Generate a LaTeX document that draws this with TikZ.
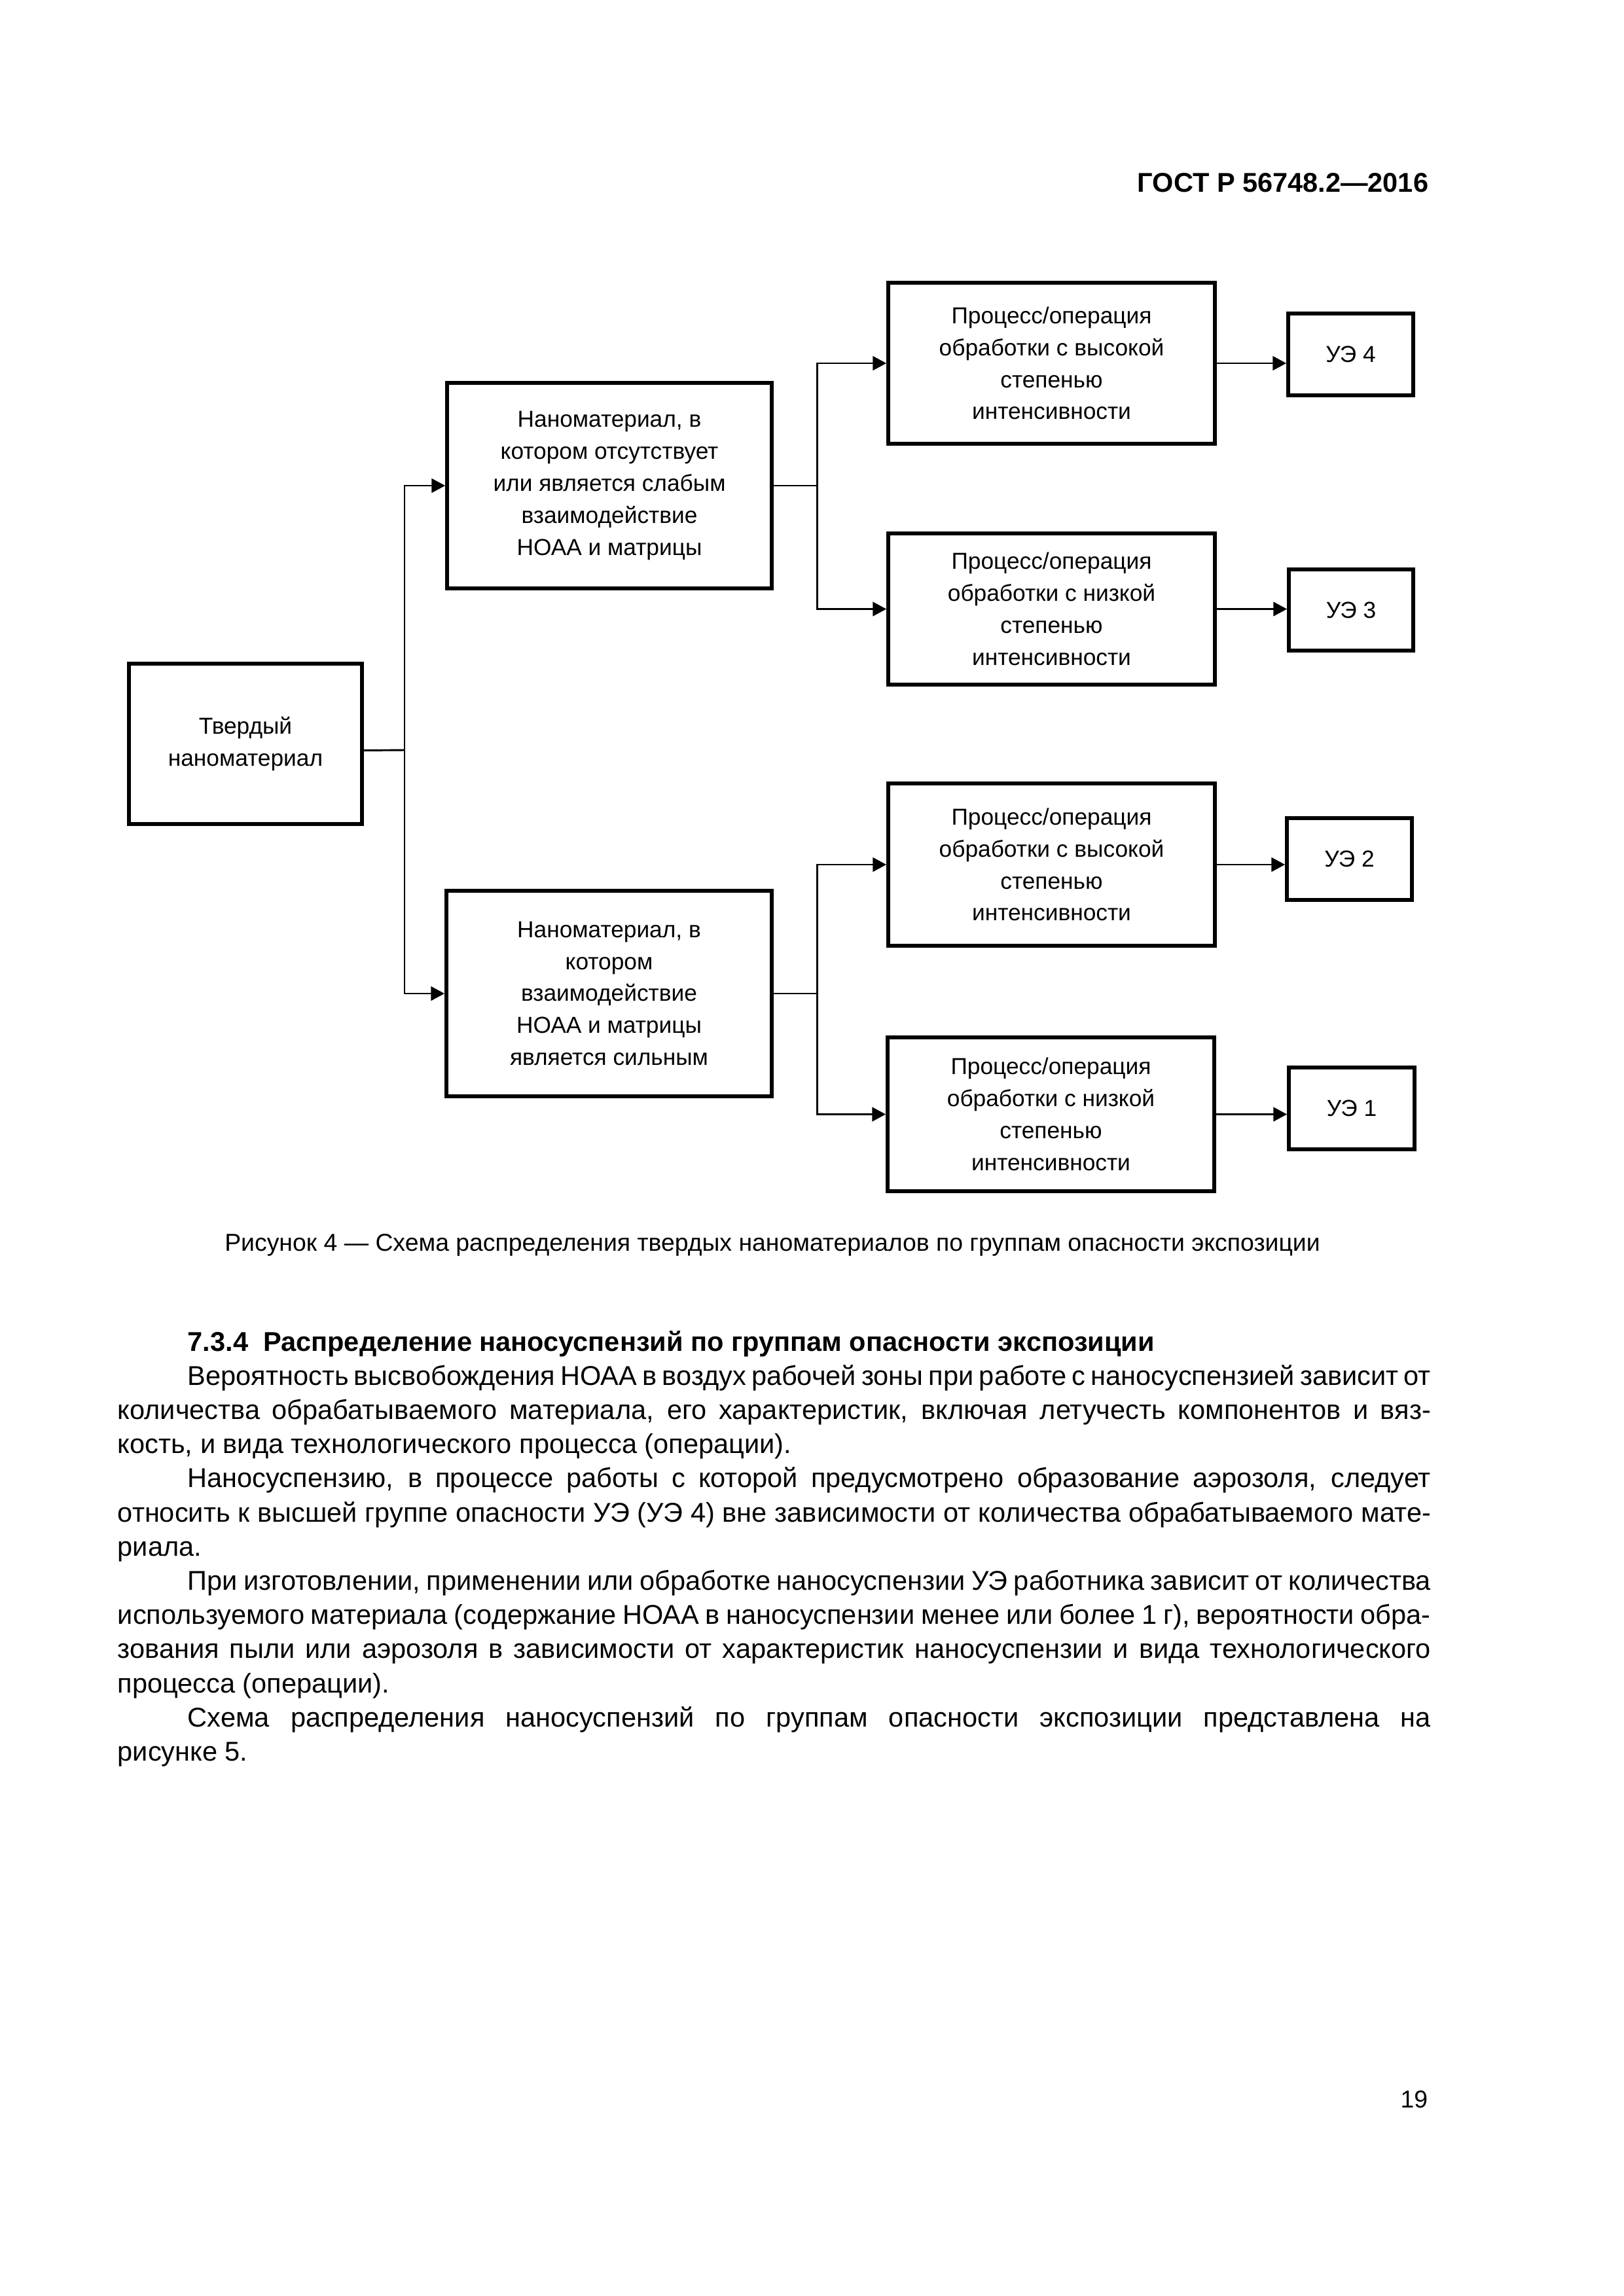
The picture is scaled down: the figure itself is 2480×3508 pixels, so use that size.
\documentclass[tikz,border=0pt]{standalone}
\usepackage{fontspec}
\setmainfont{Liberation Sans}
\usetikzlibrary{arrows.meta}
\newlength\bodyw \setlength\bodyw{481.44bp}
\newlength\bodyi \setlength\bodyi{455.76bp}
\newcommand\jl[1]{\hbox to \bodyw{\spaceskip=0.278em plus 1em minus 0.22em\relax #1}}
\newcommand\ji[1]{\hbox to \bodyi{\spaceskip=0.278em plus 1em minus 0.22em\relax #1}}
\newcommand\nl[1]{\hbox{\spaceskip=0.278em plus 0.1em minus 0.1em\relax #1}}
\newcommand\boxfont{\fontsize{8.5}{11.76}\selectfont}
\newcommand\bodyfont{\fontsize{10}{12.5}\selectfont}
\newcommand\capfont{\fontsize{9}{11}\selectfont}
\newcommand\headfont{\fontsize{10}{12}\selectfont\bfseries}
\begin{document}
\begin{tikzpicture}[x=0.24bp,y=-0.24bp,
  box/.style={draw, line width=1.4pt, align=center, inner sep=0pt, font=\boxfont},
  conn/.style={line width=0.7pt},
  arr/.style={line width=0.7pt, -{Triangle[length=5bp,width=5.2bp]}},
  txt/.style={inner sep=0pt, font=\bodyfont}
]
\useasboundingbox (0,0) rectangle (2480,3508);

% header and page number
\node[inner sep=0pt, anchor=base east, font=\headfont] (hdr) at (2183,293) {ГОСТ Р 56748.2—2016};
\node[inner sep=0pt, anchor=base east, font=\fontsize{9}{11}\selectfont] (pg) at (2182,3220) {19};

% boxes
\node[box, minimum width={356*0.24bp}, minimum height={245*0.24bp}] (A) at (375,1136.5) {Твердый\\наноматериал};
\node[box, minimum width={496*0.24bp}, minimum height={314*0.24bp}] (B1) at (931,742) {Наноматериал, в\\котором отсутствует\\или является слабым\\взаимодействие\\НОАА и матрицы};
\node[box, minimum width={497*0.24bp}, minimum height={314*0.24bp}] (B2) at (930.5,1518) {Наноматериал, в\\котором\\взаимодействие\\НОАА и матрицы\\является сильным};
\node[box, minimum width={499*0.24bp}, minimum height={246*0.24bp}] (C1) at (1606.5,555) {Процесс/операция\\обработки с высокой\\степенью\\интенсивности};
\node[box, minimum width={499*0.24bp}, minimum height={231*0.24bp}] (C2) at (1606.5,930.5) {Процесс/операция\\обработки с низкой\\степенью\\интенсивности};
\node[box, minimum width={499*0.24bp}, minimum height={248*0.24bp}] (C3) at (1606.5,1321) {Процесс/операция\\обработки с высокой\\степенью\\интенсивности};
\node[box, minimum width={499*0.24bp}, minimum height={235*0.24bp}] (C4) at (1605.5,1702.5) {Процесс/операция\\обработки с низкой\\степенью\\интенсивности};
\node[box, minimum width={191*0.24bp}, minimum height={125*0.24bp}] (U4) at (2063.5,541.5) {УЭ 4};
\node[box, minimum width={190*0.24bp}, minimum height={124*0.24bp}] (U3) at (2064,932) {УЭ 3};
\node[box, minimum width={191*0.24bp}, minimum height={125*0.24bp}] (U2) at (2061.5,1312.5) {УЭ 2};
\node[box, minimum width={192*0.24bp}, minimum height={125*0.24bp}] (U1) at (2065,1693.5) {УЭ 1};

% connectors
\coordinate (jL) at (618,1146);
\draw[conn] ([yshift=-2.4bp]A.east) -- (jL);
\draw[arr] (jL) |- (B1.west);
\draw[arr] (jL) |- (B2.west);
\coordinate (jR1) at ([xshift=16.08bp]B1.east);
\coordinate (jR2) at ([xshift=16.08bp]B2.east);
\draw[conn] (B1.east) -- (jR1);
\draw[arr] (jR1) |- (C1.west);
\draw[arr] (jR1) |- (C2.west);
\draw[conn] (B2.east) -- (jR2);
\draw[arr] (jR2) |- (C3.west);
\draw[arr] (jR2) |- (C4.west);
\draw[arr] (C1.east) -- (C1.east -| U4.west);
\draw[arr] (C2.east) -- (C2.east -| U3.west);
\draw[arr] (C3.east) -- (C3.east -| U2.west);
\draw[arr] (C4.east) -- (C4.east -| U1.west);

% caption
\node[inner sep=0pt, anchor=base, font=\capfont] (cap) at (1180,1911) {Рисунок 4 — Схема распределения твердых наноматериалов по группам опасности экспозиции};

% body text
\node[txt, anchor=base west, font=\bodyfont\bfseries] (t0) at (286,2064) {7.3.4\ \ Распределение наносуспензий по группам опасности экспозиции};
\node[txt, anchor=base west] (t1) at (286,2116.2) {\ji{Вероятность высвобождения НОАА в воздух рабочей зоны при работе с наносуспензией зависит от}};
\node[txt, anchor=base west] (t2) at (179,2168.4) {\jl{количества обрабатываемого материала, его характеристик, включая летучесть компонентов и вяз-}};
\node[txt, anchor=base west] (t3) at (179,2220.6) {\nl{кость, и вида технологического процесса (операции).}};
\node[txt, anchor=base west] (t4) at (286,2272.8) {\ji{Наносуспензию, в процессе работы с которой предусмотрено образование аэрозоля, следует}};
\node[txt, anchor=base west] (t5) at (179,2325) {\jl{относить к высшей группе опасности УЭ (УЭ 4) вне зависимости от количества обрабатываемого мате-}};
\node[txt, anchor=base west] (t6) at (179,2377.2) {\nl{риала.}};
\node[txt, anchor=base west] (t7) at (286,2429.4) {\ji{При изготовлении, применении или обработке наносуспензии УЭ работника зависит от количества}};
\node[txt, anchor=base west] (t8) at (179,2481.6) {\jl{используемого материала (содержание НОАА в наносуспензии менее или более 1 г), вероятности обра-}};
\node[txt, anchor=base west] (t9) at (179,2533.8) {\jl{зования пыли или аэрозоля в зависимости от характеристик наносуспензии и вида технологического}};
\node[txt, anchor=base west] (t10) at (179,2586) {\nl{процесса (операции).}};
\node[txt, anchor=base west] (t11) at (286,2638.2) {\ji{Схема распределения наносуспензий по группам опасности экспозиции представлена на}};
\node[txt, anchor=base west] (t12) at (179,2690.4) {\nl{рисунке 5.}};
\end{tikzpicture}
\end{document}
